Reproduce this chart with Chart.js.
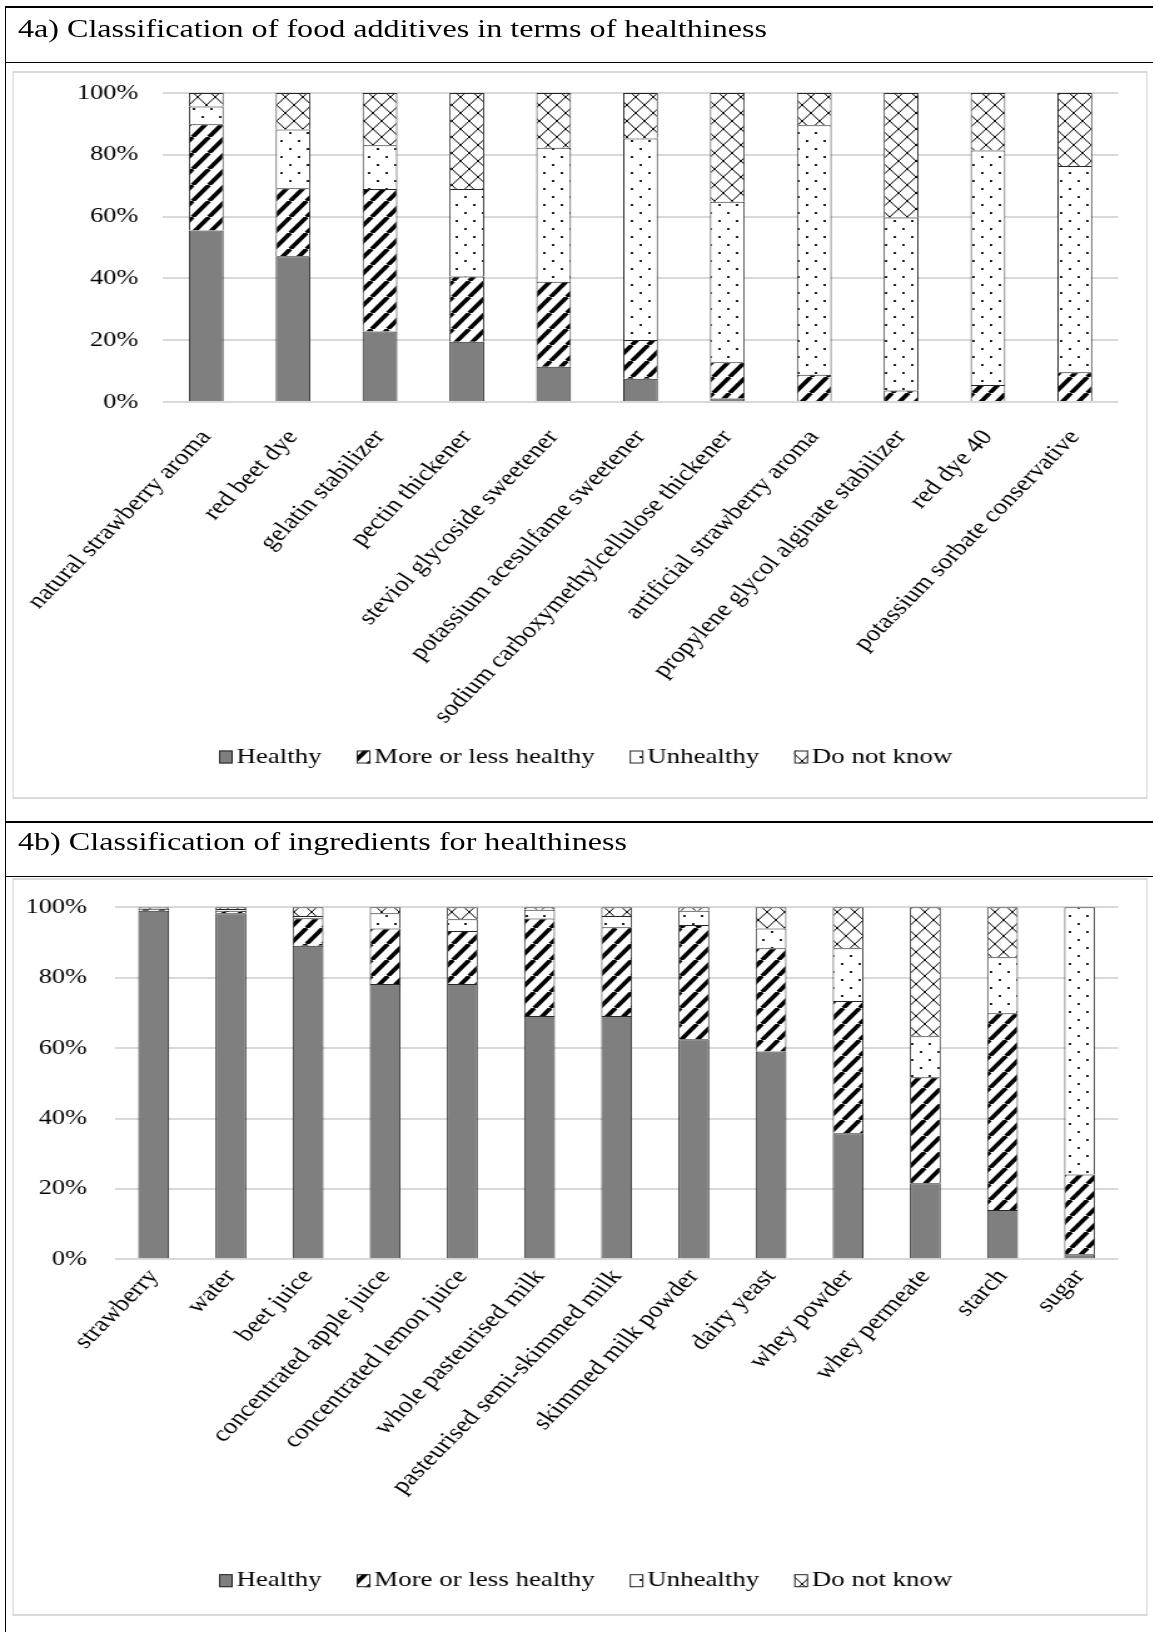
<!DOCTYPE html>
<html>
<head>
<meta charset="utf-8">
<title>Classification of food additives and ingredients for healthiness</title>
<script src="https://cdn.jsdelivr.net/npm/chart.js@4.4.1/dist/chart.umd.min.js"></script>
<style>
  html, body { margin: 0; padding: 0; background: #fff; overflow: hidden; }
  /* the source figure is wide-stretched, so lay out narrow and stretch the whole page */
  #page {
    position: relative; width: 922.4px; height: 1632px;
    transform: scaleX(1.25); transform-origin: 0 0;
    font-family: 'Liberation Serif', 'Times New Roman', serif; color: #000;
  }
  .rule { position: absolute; background: #000; }
  .title { position: absolute; left: 14.4px; font-size: 25.7px; line-height: 30px; white-space: nowrap; }
  .box {
    position: absolute; left: 10.2px; width: 905.8px;
    border: 2px solid #d9d9d9; border-left-width: 1.6px; border-right-width: 1.6px;
  }
  .box div { position: relative; width: 100%; height: 100%; }
</style>
</head>
<body>
<div id="page">
  <div class="rule" style="left:3.6px;top:5.7px;width:1000px;height:2px"></div>
  <div class="rule" style="left:3.6px;top:5.7px;width:1.6px;height:1700px"></div>
  <div class="rule" style="left:3.6px;top:61.7px;width:1000px;height:1.6px"></div>
  <div class="rule" style="left:3.6px;top:820.7px;width:1000px;height:2px"></div>
  <div class="rule" style="left:3.6px;top:875.7px;width:1000px;height:1.6px"></div>

  <div class="title" style="top:14px">4a) Classification of food additives in terms of healthiness</div>
  <div class="box" style="top:71px;height:724px"><div><canvas id="chartA"></canvas></div></div>

  <div class="title" style="top:827px">4b) Classification of ingredients for healthiness</div>
  <div class="box" style="top:878px;height:734px"><div><canvas id="chartB"></canvas></div></div>
</div>

<script>
// Series names and tick labels
const seriesNames = ["Healthy", "More or less healthy", "Unhealthy", "Do not know"];
const tickLabels = ["0%", "20%", "40%", "60%", "80%", "100%"];

// 4a) food additives (% of respondents)
const additives = [
    "natural strawberry aroma", "red beet dye", "gelatin stabilizer", "pectin thickener",
    "steviol glycoside sweetener", "potassium acesulfame sweetener",
    "sodium carboxymethylcellulose thickener", "artificial strawberry aroma",
    "propylene glycol alginate stabilizer", "red dye 40", "potassium sorbate conservative"
];
const additivesHealthy  = [55.5, 47.2, 22.8, 19.5, 11.4, 7.5, 1.1, 0, 0, 0, 0];
const additivesMoreLess = [34.4, 22.0, 46.1, 21.1, 27.5, 12.6, 11.8, 8.8, 3.7, 5.5, 9.6];
const additivesUnhealthy = [5.7, 19.0, 14.2, 28.3, 43.4, 65.2, 51.9, 80.8, 56.0, 75.9, 66.8];
const additivesDontKnow = [4.4, 11.8, 16.9, 31.1, 17.7, 14.7, 35.2, 10.4, 40.3, 18.6, 23.6];

// 4b) ingredients (% of respondents)
const ingredients = [
    "strawberry", "water", "beet juice", "concentrated apple juice", "concentrated lemon juice",
    "whole pasteurised milk", "pasteurised semi-skimmed milk", "skimmed milk powder",
    "dairy yeast", "whey powder", "whey permeate", "starch", "sugar"
];
const ingredientsHealthy  = [99.0, 98.3, 89.1, 78.2, 78.2, 69.1, 69.1, 62.5, 59.0, 35.8, 21.6, 14.0, 1.4];
const ingredientsMoreLess = [0.6, 0.7, 7.8, 15.8, 15.1, 27.7, 25.2, 32.5, 29.4, 37.6, 30.1, 55.9, 22.7];
const ingredientsUnhealthy = [0.2, 0.5, 0.6, 4.3, 3.3, 2.5, 3.2, 4.0, 5.6, 15.0, 11.7, 15.9, 75.9];
const ingredientsDontKnow = [0.2, 0.5, 2.5, 1.7, 3.4, 0.7, 2.5, 1.0, 6.0, 11.6, 36.6, 14.2, 0];

const serif = "'Liberation Serif', 'Times New Roman', serif";
Chart.defaults.font.family = serif;
Chart.defaults.color = "#000";

// small repeating tiles used as bar fills (Excel-like pattern fills)
function makePattern(ctx, w, h, draw) {
    const tile = document.createElement("canvas");
    tile.width = w;
    tile.height = h;
    const g = tile.getContext("2d");
    g.fillStyle = "#fff";
    g.fillRect(0, 0, w, h);
    draw(g, w, h);
    return ctx.createPattern(tile, "repeat");
}

function fillsFor(ctx) {
    const stripes = makePattern(ctx, 13, 16, (g, w, h) => {
        g.strokeStyle = "#000";
        g.lineWidth = 3.8;
        for (let k = -1; k <= 1; k++) {
            g.beginPath();
            g.moveTo(k * w, h);
            g.lineTo(k * w + w, 0);
            g.stroke();
        }
    });
    const dots = makePattern(ctx, 14, 16, (g) => {
        g.fillStyle = "#222";
        g.fillRect(3, 3, 2, 2);
        g.fillRect(10, 11, 2, 2);
    });
    const cross = makePattern(ctx, 14, 16, (g, w, h) => {
        g.strokeStyle = "#000";
        g.lineWidth = 1;
        g.beginPath();
        g.moveTo(0, 0); g.lineTo(w, h);
        g.moveTo(w, 0); g.lineTo(0, h);
        g.stroke();
    });
    return ["#7f7f7f", stripes, dots, cross];
}

// Excel-style legend: small swatch right next to its text, centred under the chart
const swatchLegend = {
    id: "swatchLegend",
    afterDraw(chart, args, opts) {
        const ctx = chart.ctx;
        ctx.save();
        ctx.font = opts.size + "px " + serif;
        ctx.textBaseline = "middle";
        const items = chart.data.datasets.map(ds => ({
            text: ds.label, fill: ds.backgroundColor, width: ctx.measureText(ds.label).width
        }));
        const total = items.reduce((s, it) => s + opts.box + opts.gap + it.width, 0)
            + opts.spacing * (items.length - 1);
        let x = opts.centerX - total / 2;
        items.forEach(it => {
            const top = opts.y - opts.boxH / 2;
            ctx.fillStyle = it.fill;
            ctx.fillRect(x, top, opts.box, opts.boxH);
            ctx.strokeStyle = "#262626";
            ctx.lineWidth = 1;
            ctx.strokeRect(x + 0.5, top + 0.5, opts.box - 1, opts.boxH - 1);
            ctx.fillStyle = "#000";
            ctx.fillText(it.text, x + opts.box + opts.gap, opts.y);
            x += opts.box + opts.gap + it.width + opts.spacing;
        });
        ctx.restore();
    }
};

function buildChart(id, labels, series, lay) {
    const ctx = document.getElementById(id).getContext("2d");
    const fills = fillsFor(ctx);
    return new Chart(ctx, {
        type: "bar",
        plugins: [swatchLegend],
        data: {
            labels: labels,
            datasets: series.map((values, i) => ({
                label: seriesNames[i],
                data: values,
                backgroundColor: fills[i],
                borderColor: "#262626",
                borderWidth: 1,
                barPercentage: 0.4,
                categoryPercentage: 1
            }))
        },
        options: {
            responsive: true,
            maintainAspectRatio: false,
            animation: false,
            layout: { padding: { left: 0, right: 23.2, top: lay.top, bottom: lay.bottom } },
            plugins: {
                legend: { display: false },
                swatchLegend: { centerX: 457, y: lay.legendY, size: 21.5, box: 11, boxH: 13, gap: 3, spacing: 28 },
                tooltip: { enabled: false }
            },
            scales: {
                x: {
                    stacked: true,
                    // invisible tick marks give the gap under the axis (ticks.padding would push the plot right)
                    grid: {
                        drawOnChartArea: false, color: "rgba(0,0,0,0)",
                        tickLength: lay.labelGap, tickColor: "rgba(0,0,0,0)"
                    },
                    border: { display: false },
                    ticks: { autoSkip: false, minRotation: 51.3, maxRotation: 51.3, padding: 0, font: { size: 22 } },
                    afterFit: (scale) => { scale.height = lay.xHeight; }
                },
                y: {
                    stacked: true,
                    min: 0,
                    max: 100,
                    border: { display: false },
                    grid: { color: "#d9d9d9", lineWidth: 2, tickLength: lay.tickGap, tickColor: "rgba(0,0,0,0)" },
                    ticks: {
                        stepSize: 20,
                        padding: 0,
                        font: { size: 21 },
                        callback: (value, index) => tickLabels[index]
                    },
                    afterFit: (scale) => { scale.width = lay.yWidth; }
                }
            }
        }
    });
}

buildChart("chartA", additives,
    [additivesHealthy, additivesMoreLess, additivesUnhealthy, additivesDontKnow],
    { top: 20, bottom: 65, xHeight: 330, yWidth: 119.1, tickGap: 19.7, labelGap: 23, legendY: 684 });

buildChart("chartB", ingredients,
    [ingredientsHealthy, ingredientsMoreLess, ingredientsUnhealthy, ingredientsDontKnow],
    { top: 27.3, bottom: 58.3, xHeight: 296.4, yWidth: 81, tickGap: 22.4, labelGap: 5, legendY: 700.7 });
</script>
</body>
</html>
